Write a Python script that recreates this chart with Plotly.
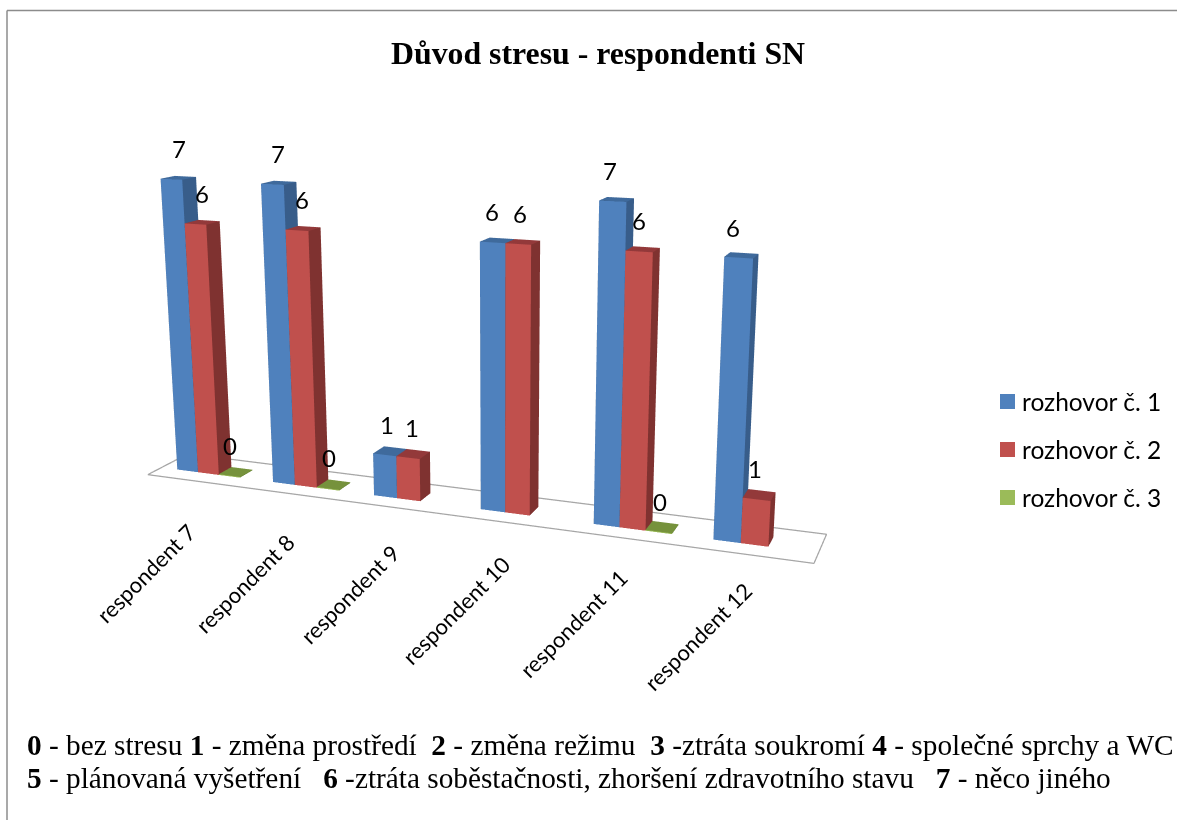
import plotly.graph_objects as go

categories = ["respondent 7", "respondent 8", "respondent 9", "respondent 10", "respondent 11", "respondent 12"]
series_names = ["rozhovor č. 1", "rozhovor č. 2", "rozhovor č. 3"]
rozhovor_1 = [7, 7, 1, 6, 7, 6]
rozhovor_2 = [6, 6, 1, 6, 6, 1]
rozhovor_3 = [0, 0, None, None, 0, None]
title_text = "<b>Důvod stresu - respondenti SN</b>"
caption_1 = "<b>0</b> - bez stresu <b>1</b> - změna prostředí  <b>2</b> - změna režimu  <b>3</b> -ztráta soukromí <b>4</b> - společné sprchy a WC"
caption_2 = "<b>5</b> - plánovaná vyšetření   <b>6</b> -ztráta soběstačnosti, zhoršení zdravotního stavu   <b>7</b> - něco jiného"

series = [rozhovor_1, rozhovor_2, rozhovor_3]
front = ["#4f81bd", "#c0504d", "#9bbb59"]
side = ["#385d8a", "#7f3230", "#6d8a3a"]
top = ["#3f6a9c", "#93393a", "#76923c"]
label_shift_start = [8, 7, 1]
label_shift_step = [-2.8, -1.8, 0]

BAR_W = 0.22
MARGIN = 0.17
DEPTH = 0.66
Y0, Y1 = 0.22, 0.44
FLAT = 0.02
A = 2.086
FIG_H = 1185
OFF = 234


def py(y):
    return 1 - (y + OFF) / FIG_H


fig = go.Figure()
annos = []
for s, vals in enumerate(series):
    X, Y, Z, I, J, K, FC = [], [], [], [], [], [], []
    for c, v in enumerate(vals):
        if v is None:
            continue
        x0 = c + MARGIN + s * BAR_W
        x1 = x0 + BAR_W
        z1 = max(v, FLAT)
        b = len(X)
        for zz in (0, z1):
            for yy in (Y0, Y1):
                for xx in (x0, x1):
                    X.append(xx); Y.append(yy); Z.append(zz)
        faces = [
            ((0, 1, 5), front[s]), ((0, 5, 4), front[s]),
            ((1, 3, 7), side[s]), ((1, 7, 5), side[s]),
            ((4, 5, 7), top[s]), ((4, 7, 6), top[s]),
            ((0, 2, 6), side[s]), ((0, 6, 4), side[s]),
            ((2, 3, 7), side[s]), ((2, 7, 6), side[s]),
        ]
        for (a, d, e), col in faces:
            I.append(b + a); J.append(b + d); K.append(b + e); FC.append(col)
        annos.append(dict(x=(x0 + x1) / 2, y=Y0, z=z1, text=str(v), showarrow=False,
                          yanchor="bottom", yshift=14,
                          xshift=label_shift_start[s] + label_shift_step[s] * c,
                          font=dict(family="Lato, Carlito, sans-serif", size=24, color="#000")))
    fig.add_trace(go.Mesh3d(x=X, y=Y, z=Z, i=I, j=J, k=K, facecolor=FC, flatshading=True,
                            name=series_names[s], hoverinfo="skip",
                            lighting=dict(ambient=1, diffuse=0, specular=0, fresnel=0, roughness=1)))

n = len(categories)
fig.add_trace(go.Scatter3d(x=[0, n, n, 0, 0], y=[0, 0, DEPTH, DEPTH, 0], z=[0, 0, 0, 0, 0],
                           mode="lines", line=dict(color="#a6a6a6", width=2.5),
                           hoverinfo="skip", showlegend=False))
for c, name in enumerate(categories):
    annos.append(dict(x=c + 0.5, y=0, z=0, text=name, showarrow=False, textangle=-45,
                      xanchor="right", yanchor="top", yshift=-35 + 3.0 * c, xshift=8 + 0.6 * c,
                      font=dict(family="Lato, Carlito, sans-serif", size=22, color="#000")))

axis = dict(visible=False, showgrid=False, zeroline=False, showspikes=False)
paper = []
paper.append(dict(x=598 / 1177, y=py(53), xref="paper", yref="paper", text=title_text, showarrow=False,
                  yanchor="middle", font=dict(family="Liberation Serif", size=31.8, color="#000")))
paper.append(dict(x=25 / 1177, y=py(745), xref="paper", yref="paper", text=caption_1, showarrow=False,
                  xanchor="left", yanchor="middle", font=dict(family="Liberation Serif", size=29.3, color="#000")))
paper.append(dict(x=25 / 1177, y=py(778), xref="paper", yref="paper", text=caption_2, showarrow=False,
                  xanchor="left", yanchor="middle", font=dict(family="Liberation Serif", size=29.3, color="#000")))
shapes = [
    dict(type="line", xref="paper", yref="paper", x0=7 / 1177, x1=1, y0=py(10.5), y1=py(10.5),
         line=dict(color="#8c8c8c", width=1.5)),
    dict(type="line", xref="paper", yref="paper", x0=7 / 1177, x1=7 / 1177, y0=0, y1=py(10.5),
         line=dict(color="#8c8c8c", width=1.5)),
]
for s, name in enumerate(series_names):
    yc = 401.5 + s * 48
    shapes.append(dict(type="rect", xref="paper", yref="paper", x0=1000 / 1177, x1=1015 / 1177,
                       y0=py(yc + 7.5), y1=py(yc - 7.5), fillcolor=front[s], line=dict(width=0)))
    paper.append(dict(x=1020 / 1177, y=py(yc), xref="paper", yref="paper", text=name, showarrow=False,
                      xanchor="left", yanchor="middle", font=dict(family="Lato, Carlito, sans-serif", size=24.5, color="#000")))

fig.update_layout(
    width=1177, height=FIG_H, margin=dict(l=0, r=0, t=0, b=0), showlegend=False,
    paper_bgcolor="white", annotations=paper, shapes=shapes,
    scene=dict(
        domain=dict(x=[0, 0.85], y=[0, 1]),
        xaxis=dict(range=[0, n], **axis), yaxis=dict(range=[0, DEPTH], **axis), zaxis=dict(range=[0, 7], **axis),
        aspectmode="manual", aspectratio=dict(x=A, y=DEPTH / n * A, z=0.93),
        camera=dict(eye=dict(x=1.520, y=-3.747, z=0.988), center=dict(x=0.092, y=0.035, z=-0.021), up=dict(x=0, y=0, z=1),
                    projection=dict(type="perspective")),
        annotations=annos,
    ),
)
fig.write_html("out.html", config=dict(displayModeBar=False),
               post_script=f"document.documentElement.style.overflow='hidden';document.body.style.overflow='hidden';document.body.style.margin='0';document.getElementsByClassName('plotly-graph-div')[0].style.marginTop='-{OFF}px';")
